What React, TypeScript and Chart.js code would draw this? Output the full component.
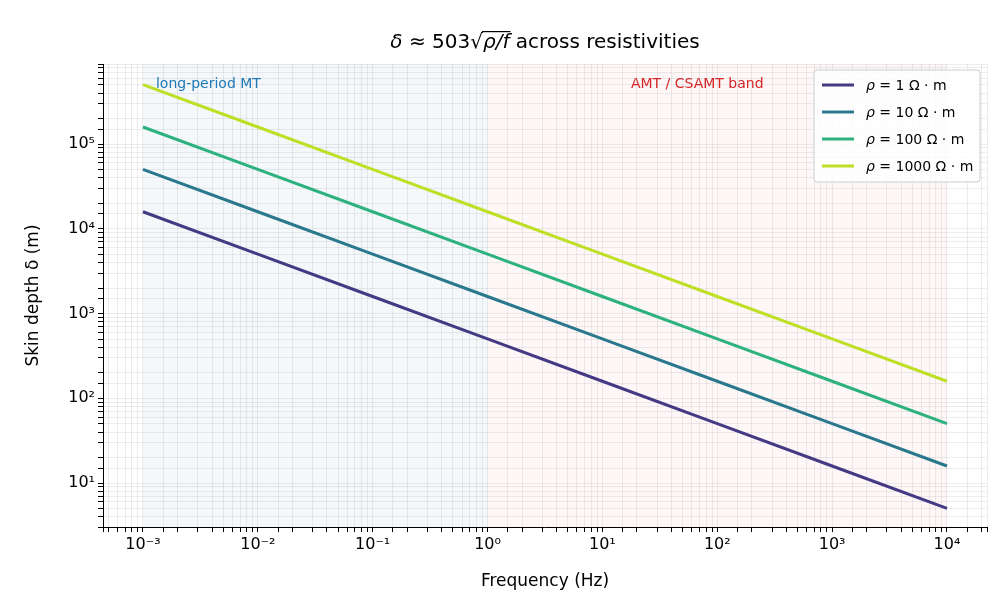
import React, { useEffect, useRef } from "react";
import { Chart, registerables } from "chart.js";
Chart.register(...registerables);

const frequencies = [0.001, 0.01, 0.1, 1, 10, 100, 1000, 10000];
const depthRho1 = [15900, 5030, 1590, 503, 159, 50.3, 15.9, 5.03];
const depthRho10 = [50300, 15900, 5030, 1590, 503, 159, 50.3, 15.9];
const depthRho100 = [159000, 50300, 15900, 5030, 1590, 503, 159, 50.3];
const depthRho1000 = [503000, 159000, 50300, 15900, 5030, 1590, 503, 159];
const seriesLabels = ["1", "10", "100", "1000"];
const colors = ["#443983", "#2a788e", "#2db27d", "#bddf26"];
const bands = [
  { from: 0.001, to: 1, color: "rgba(31,119,180,0.05)", label: "long-period MT", text: "#1f77b4", align: "left" },
  { from: 1, to: 10000, color: "rgba(214,39,40,0.04)", label: "AMT / CSAMT band", text: "#d62728", align: "center" },
];

const sup: Record<string, string> = { "-": "⁻", "0": "⁰", "1": "¹", "2": "²", "3": "³", "4": "⁴", "5": "⁵", "6": "⁶", "7": "⁷", "8": "⁸", "9": "⁹" };
const pow10 = (v: number) => {
  const l = Math.log10(v);
  if (Math.abs(l - Math.round(l)) > 1e-6) return "";
  return "10" + String(Math.round(l)).split("").map((c) => sup[c]).join("");
};

const FONT = "'DejaVu Sans', sans-serif";

export default function App() {
  const ref = useRef<HTMLCanvasElement>(null);
  useEffect(() => {
    const all = [depthRho1, depthRho10, depthRho100, depthRho1000];
    const plugin = {
      id: "extras",
      beforeDatasetsDraw(chart: any) {
        const { ctx, chartArea: a, scales } = chart;
        ctx.save();
        for (const b of bands) {
          const x1 = scales.x.getPixelForValue(b.from);
          const x2 = scales.x.getPixelForValue(b.to);
          ctx.fillStyle = b.color;
          ctx.fillRect(x1, a.top, x2 - x1, a.bottom - a.top);
        }
        ctx.restore();
      },
      afterDraw(chart: any) {
        const { ctx, chartArea: a, scales } = chart;
        ctx.save();
        ctx.font = `14px ${FONT}`;
        ctx.textBaseline = "middle";
        for (const b of bands) {
          const x1 = scales.x.getPixelForValue(b.from);
          const x2 = scales.x.getPixelForValue(b.to);
          ctx.fillStyle = b.text;
          if (b.align === "left") { ctx.textAlign = "left"; ctx.fillText(b.label, x1 + 13, a.top + 20); }
          else { ctx.textAlign = "center"; ctx.fillText(b.label, (x1 + x2) / 2 - 20, a.top + 20); }
        }
        ctx.fillStyle = "#000";
        const cx = (a.left + a.right) / 2;
        const parts = [["δ", "italic"], [" ≈ 503", "normal"], ["√", "normal"], ["ρ/f", "italic"], [" across resistivities", "normal"]];
        const widths = parts.map(([t, s]) => { ctx.font = `${s} 20px ${FONT}`; return ctx.measureText(t).width; });
        let x = cx - widths.reduce((p, c) => p + c, 0) / 2;
        ctx.textAlign = "left";
        parts.forEach(([t, s], i) => {
          ctx.font = `${s} 20px ${FONT}`;
          ctx.fillText(t, x, 43);
          if (t === "ρ/f") { ctx.fillRect(x - 1, 31, widths[i] + 2, 1.2); }
          x += widths[i];
        });
        const lx = 814, ly = 70, lw = 166, lh = 112;
        ctx.fillStyle = "rgba(255,255,255,0.85)";
        ctx.strokeStyle = "#ccc";
        ctx.lineWidth = 1;
        ctx.beginPath(); ctx.roundRect(lx, ly, lw, lh, 3); ctx.fill(); ctx.stroke();
        seriesLabels.forEach((r, i) => {
          const y = ly + 15 + i * 27;
          ctx.strokeStyle = colors[i]; ctx.lineWidth = 3;
          ctx.beginPath(); ctx.moveTo(lx + 8, y); ctx.lineTo(lx + 40, y); ctx.stroke();
          ctx.fillStyle = "#000";
          let tx = lx + 52;
          const seg = [["ρ", "italic"], [" = " + r + " Ω · m", "normal"]];
          seg.forEach(([t, s]) => { ctx.font = `${s} 14px ${FONT}`; ctx.fillText(t, tx, y + 1); tx += ctx.measureText(t).width; });
        });
        ctx.restore();
      },
    };
    const chart = new Chart(ref.current!, {
      type: "line",
      data: {
        datasets: all.map((d, i) => ({
          label: seriesLabels[i],
          data: frequencies.map((f, j) => ({ x: f, y: d[j] })),
          borderColor: colors[i],
          borderWidth: 3,
          pointRadius: 0,
          fill: false,
        })),
      },
      options: {
        animation: false,
        responsive: false,
        layout: { padding: { top: 64, right: 21, left: 23, bottom: 24 } },
        plugins: { legend: { display: false }, tooltip: { enabled: false } },
        scales: {
          x: {
            type: "logarithmic", min: 4.49e-4, max: 2.23e4,
            grid: { color: "rgba(0,0,0,0.07)", drawTicks: true, tickLength: 5, tickColor: "#000" },
            border: { color: "#000", width: 1 },
            ticks: { color: "#000", font: { family: FONT, size: 16 }, autoSkip: false, maxRotation: 0, callback: (v: any) => pow10(Number(v)) },
            title: { display: true, text: "Frequency (Hz)", color: "#000", font: { family: FONT, size: 17 }, padding: 0 },
            afterFit: (s: any) => { s.height = 65; },
          },
          y: {
            type: "logarithmic", min: 3.03, max: 8.8e5,
            grid: { color: "rgba(0,0,0,0.07)", tickLength: 5, tickColor: "#000" },
            border: { color: "#000", width: 1 },
            ticks: { color: "#000", font: { family: FONT, size: 16 }, autoSkip: false, callback: (v: any) => pow10(Number(v)) },
            title: { display: true, text: "Skin depth δ (m)", color: "#000", font: { family: FONT, size: 17 }, padding: 0 },
            afterFit: (s: any) => { s.width = 80; },
          },
        },
      } as any,
      plugins: [plugin],
    });
    return () => chart.destroy();
  }, []);
  return (
    <div style={{ position: "fixed", left: 0, top: 0, width: 1008, height: 616, background: "#fff" }}>
      <canvas ref={ref} width={1008} height={616} style={{ width: 1008, height: 616 }} />
    </div>
  );
}
